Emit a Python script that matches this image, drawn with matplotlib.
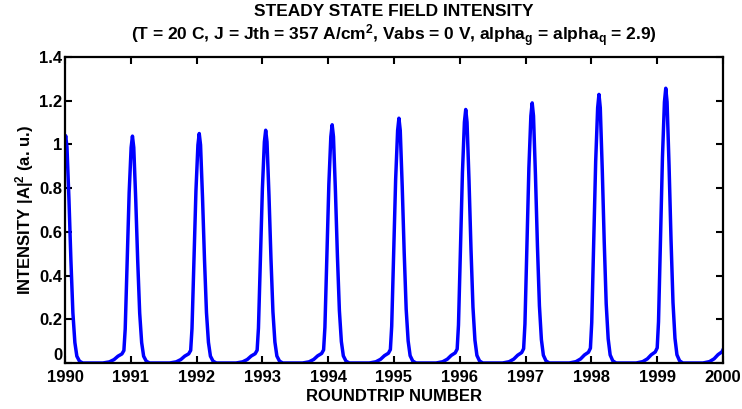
import numpy as np
import matplotlib
matplotlib.use("Agg")
import matplotlib.pyplot as plt

# peak positions / heights (last one is just past the axis)
peak_x = [1990.01, 1991.025, 1992.04, 1993.05, 1994.06, 1995.075,
          1996.09, 1997.10, 1998.115, 1999.13, 2000.145]
peak_y = [1.04, 1.038, 1.05, 1.065, 1.09, 1.12, 1.16, 1.19, 1.229, 1.257, 1.28]

# shape of one pulse, offset from peak (roundtrips) and fraction of peak height
pulse_dx = [-0.45, -0.35, -0.28, -0.22, -0.16, -0.13, -0.11, -0.08, -0.05,
            -0.02, 0.0, 0.02, 0.05, 0.08, 0.11, 0.14, 0.17, 0.21, 0.26]
pulse_f = [0.0, 0.005, 0.015, 0.03, 0.04, 0.055, 0.15, 0.45, 0.75,
           0.95, 1.0, 0.95, 0.72, 0.45, 0.22, 0.09, 0.03, 0.008, 0.0]

x = []
y = []
for px, py in zip(peak_x, peak_y):
    for dx, f in zip(pulse_dx, pulse_f):
        x.append(px + dx)
        y.append(py * f)

plt.rcParams['font.family'] = ['Liberation Sans', 'DejaVu Sans']
plt.rcParams['font.weight'] = 'bold'
plt.rcParams['mathtext.fontset'] = 'custom'
plt.rcParams['mathtext.rm'] = 'Liberation Sans:bold'
plt.rcParams['mathtext.it'] = 'Liberation Sans:bold'
plt.rcParams['mathtext.default'] = 'rm'

fig = plt.figure(figsize=(7.42, 4.09), dpi=100)
ax = fig.add_axes([65/742, 1 - 363/409, (723 - 65)/742, (363 - 57)/409])
ax.plot(x, y, color='#0000ff', lw=2.5)
ax.set_xlim(1990, 2000)
ax.set_ylim(0, 1.4)
ax.set_xticks(range(1990, 2001))
ax.set_yticks([0, 0.2, 0.4, 0.6, 0.8, 1, 1.2, 1.4])
ax.set_yticklabels(['0', '0.2', '0.4', '0.6', '0.8', '1', '1.2', '1.4'])
ax.tick_params(direction='in', top=True, right=True, length=5, width=1.5,
               labelsize=12)
ax.tick_params(axis='x', pad=5)
ax.tick_params(axis='y', pad=2)
ax.get_yticklabels()[0].set_verticalalignment('bottom')
for s in ax.spines.values():
    s.set_linewidth(1.6)

ax.set_xlabel('ROUNDTRIP NUMBER', fontsize=12, fontweight='bold', labelpad=3)
ax.set_ylabel(r'INTENSITY |A|$^2$ (a. u.)', fontsize=12, fontweight='bold', labelpad=2)
ax.set_title('STEADY STATE FIELD INTENSITY\n'
             r'(T = 20 C, J = Jth = 357 A/cm$^2$, Vabs = 0 V, alpha$_g$ = alpha$_q$ = 2.9)',
             fontsize=12.5, fontweight='bold', pad=12, linespacing=1.15)

fig.savefig('out.png', dpi=100)
